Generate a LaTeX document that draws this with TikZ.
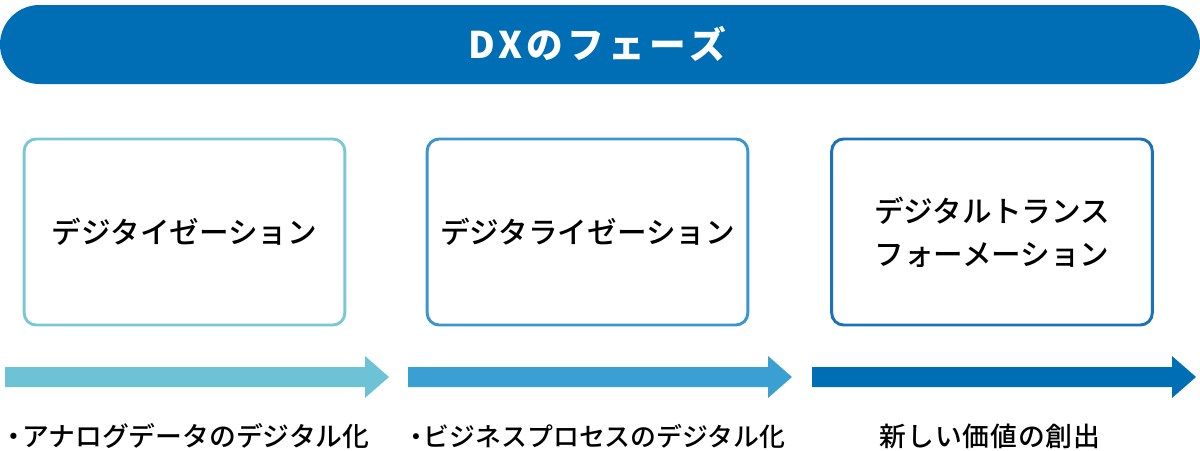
\documentclass[tikz,border=0pt]{standalone}
\usepackage{fontspec}
\setmainfont{Noto Sans CJK JP}
\newfontfamily\jpfont{Noto Sans CJK JP}[UprightFont=* Medium]
\newfontfamily\jptitle[LetterSpace=12]{Noto Sans CJK JP}
\newfontfamily\jpspaced[LetterSpace=3,UprightFont=* Medium]{Noto Sans CJK JP}
\definecolor{banner}{HTML}{006EB5}
\definecolor{arrA}{HTML}{6DC2D6}
\definecolor{arrB}{HTML}{3A9FD2}
\definecolor{arrC}{HTML}{006EB5}
\definecolor{bordA}{HTML}{7CC6DA}
\definecolor{bordB}{HTML}{3B95D0}
\definecolor{bordC}{HTML}{1A72B9}
\newcommand{\bulletdot}{・\kern-4pt}
\tikzset{
  phasebox/.style={draw, line width=2.2pt, rounded corners=9pt, fill=white,
    minimum width=240.5pt, minimum height=139.5pt, inner sep=0pt,
    align=center, font=\jpfont\fontsize{22.2}{32}\selectfont, text=black},
  phaselabel/.style={inner sep=0pt, font=\jpfont\fontsize{20.1}{24}\selectfont, text=black},
}
\begin{document}
\begin{tikzpicture}[x=0.75pt,y=-0.75pt]
\useasboundingbox (0,0) rectangle (1200,450);
% banner
\fill[banner, rounded corners=29.6pt] (0,5) rectangle (1200,84);
\node[text=white, font=\jptitle\bfseries\fontsize{27.5}{30}\selectfont, inner sep=0pt] (title) at (597,44) {DXのフェーズ};
% boxes
\node[phasebox, draw=bordA] (b1) at (184.5,232) {デジタイゼーション};
\node[phasebox, draw=bordB] (b2) at (587.5,232) {デジタライゼーション};
\node[phasebox, draw=bordC] (b3) at (992,232) {デジタルトランス\\フォーメーション};
% arrows
\foreach \sx/\col/\nm in {5/arrA/a1, 408/arrB/a2, 812/arrC/a3}{
  \fill[\col] (\sx,367) -- ({\sx+360},367) -- ({\sx+360},356) -- ({\sx+384},377)
     -- ({\sx+360},398) -- ({\sx+360},387) -- (\sx,387) -- cycle;
}
% labels
\node[phaselabel, anchor=west] (l1) at (0.5,436) {\bulletdot アナログデータのデジタル化};
\node[phaselabel, anchor=west, font=\jpfont\fontsize{19.4}{24}\selectfont] (l2) at (403,436) {\bulletdot ビジネスプロセスのデジタル化};
\node[phaselabel, font=\jpspaced\fontsize{20.1}{24}\selectfont] (l3) at (990,436) {新しい価値の創出};
\end{tikzpicture}
\end{document}
